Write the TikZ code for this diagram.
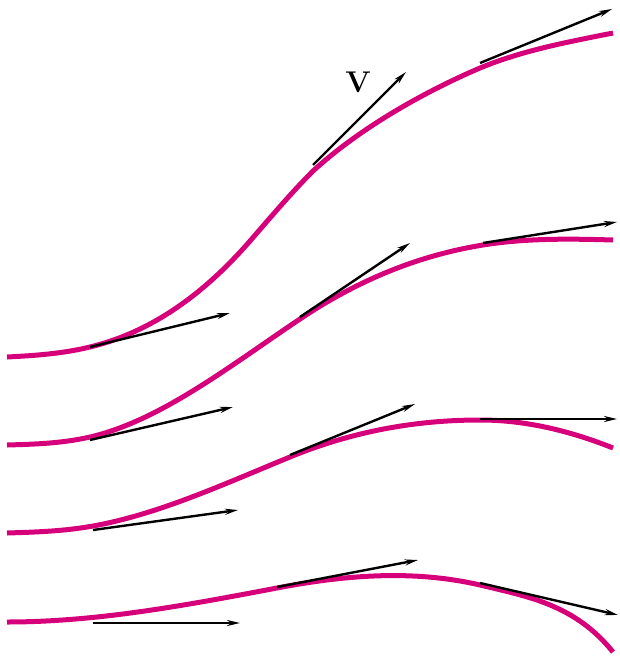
\documentclass[tikz,border=0pt]{standalone}
\usepackage{tikz}
\usetikzlibrary{arrows.meta}
\definecolor{streak}{RGB}{214,0,122}

\begin{document}
\begin{tikzpicture}[
  x=1pt,
  y=-1pt,
  >={Stealth[length=13pt,width=6pt]},
  line/.style={draw=streak, line width=5pt},
  vec/.style={->, draw=black, line width=2.4pt}
]
\useasboundingbox (0,0) rectangle (619,658);

% streamlines
\draw[line] (7,357) .. controls (34.7,355.6) and (62.3,353.7) .. (90,347)
  .. controls (143.3,334) and (196.7,302.3) .. (250,241)
  .. controls (271,216.8) and (292,192) .. (313,171)
  .. controls (360,128) and (424,92) .. (480,68)
  .. controls (524.3,49.8) and (568.7,41.9) .. (613,33);
\draw[line] (7,445) .. controls (34.7,444.2) and (62.3,443.4) .. (90,437)
  .. controls (160,420.9) and (230,365.9) .. (300,319)
  .. controls (361,278.1) and (422,254.8) .. (483,245)
  .. controls (526.3,238.1) and (569.7,238.7) .. (613,240);
\draw[line] (7,533) .. controls (35.7,532.1) and (64.3,531.2) .. (93,526)
  .. controls (158.7,514.2) and (224.3,483.9) .. (290,457)
  .. controls (353.3,431) and (416.7,420) .. (480,420)
  .. controls (524.3,420) and (568.7,430.3) .. (613,448);
\draw[line] (7,622) .. controls (97,622) and (187,605.1) .. (277,588)
  .. controls (344.7,575.1) and (412.3,569.4) .. (480,585)
  .. controls (530,597) and (575,605) .. (613,652);

% tangent vectors
\coordinate (a1) at (90,347);  \coordinate (b1) at (230,313);
\coordinate (a2) at (313,165); \coordinate (b2) at (406,72);
\coordinate (a3) at (480,63);  \coordinate (b3) at (612,9);
\coordinate (c1) at (90,440);  \coordinate (d1) at (233,407);
\coordinate (c2) at (300,317); \coordinate (d2) at (410,243);
\coordinate (c3) at (483,243); \coordinate (d3) at (617,222);
\coordinate (e1) at (93,530);  \coordinate (f1) at (238,510);
\coordinate (e2) at (290,455); \coordinate (f2) at (415,404);
\coordinate (e3) at (480,419); \coordinate (f3) at (617,419);
\coordinate (g1) at (93,623);  \coordinate (h1) at (240,623);
\coordinate (g2) at (277,587); \coordinate (h2) at (418,560);
\coordinate (g3) at (480,583); \coordinate (h3) at (618,615);

\foreach \s/\t in {a1/b1,a2/b2,a3/b3,c1/d1,c2/d2,c3/d3,e1/f1,e2/f2,e3/f3,g1/h1,g2/h2,g3/h3}
  \draw[vec] (\s) -- (\t);

\node[font=\fontsize{30}{30}\selectfont\bfseries] (v) at (358,82) {V};
\end{tikzpicture}
\end{document}
